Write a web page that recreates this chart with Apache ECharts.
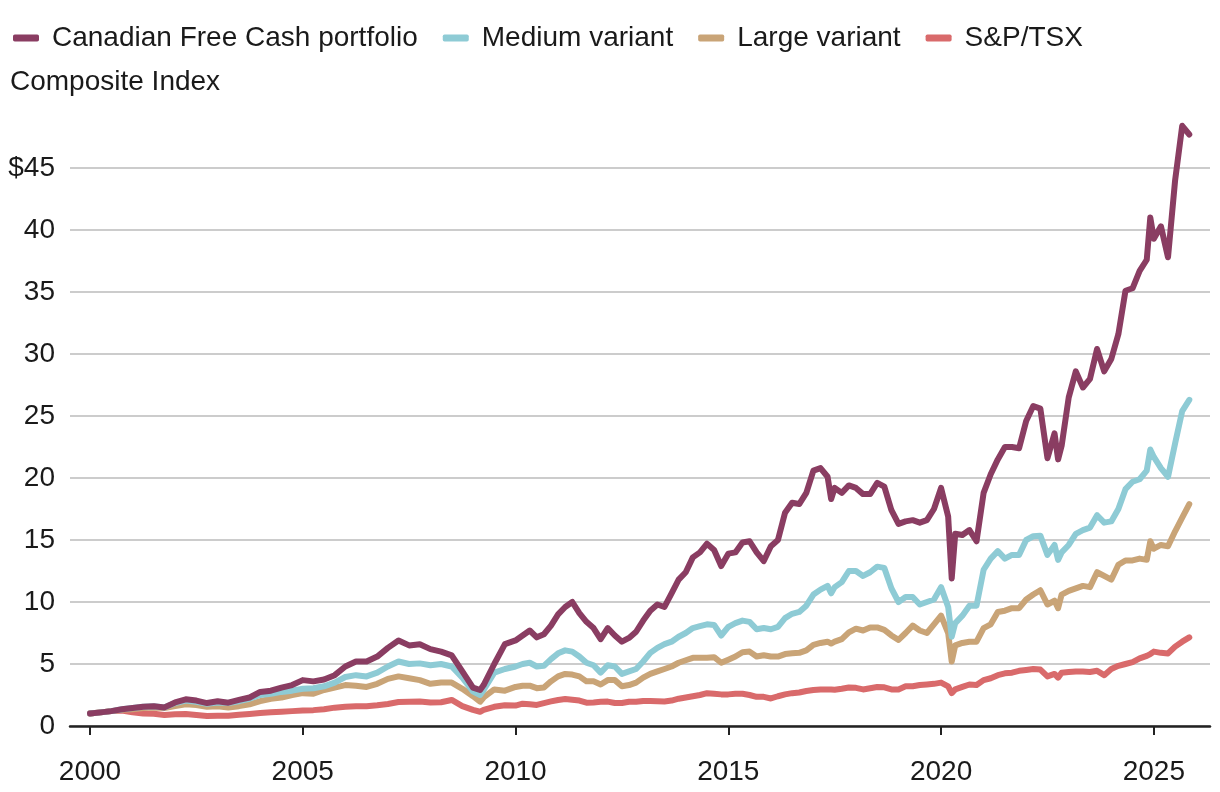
<!DOCTYPE html>
<html><head><meta charset="utf-8">
<script src="https://cdn.jsdelivr.net/npm/echarts@6.0.0/dist/echarts.min.js"></script>
<style>html,body{margin:0;padding:0;background:#fff}#chart{width:1220px;height:792px}</style>
</head><body><div id="chart"></div>
<script>
const seriesNames = ['Canadian Free Cash portfolio', 'Medium variant', 'Large variant', 'S&P/TSX Composite Index'];
const tickYears = [2000, 2005, 2010, 2015, 2020, 2025];
const yTicks = [0, 5, 10, 15, 20, 25, 30, 35, 40, 45];

const dates = [
'2000-01','2000-04','2000-07','2000-10',
'2001-01','2001-04','2001-07','2001-10',
'2002-01','2002-04','2002-07','2002-10',
'2003-01','2003-04','2003-07','2003-10',
'2004-01','2004-04','2004-07','2004-10',
'2005-01','2005-04','2005-07','2005-10',
'2006-01','2006-04','2006-07','2006-10',
'2007-01','2007-04','2007-07','2007-10',
'2008-01','2008-04','2008-07','2008-10',
'2009-01','2009-03','2009-04','2009-07','2009-10',
'2010-01','2010-03','2010-05','2010-07','2010-09','2010-11',
'2011-01','2011-03','2011-05','2011-07','2011-09','2011-11',
'2012-01','2012-03','2012-05','2012-07','2012-09','2012-11',
'2013-01','2013-03','2013-05','2013-07','2013-09','2013-11',
'2014-01','2014-03','2014-05','2014-07','2014-09','2014-11',
'2015-01','2015-03','2015-05','2015-07','2015-09','2015-11',
'2016-01','2016-03','2016-05','2016-07','2016-09','2016-11',
'2017-01','2017-03','2017-05','2017-06','2017-07','2017-09','2017-11',
'2018-01','2018-03','2018-05','2018-07','2018-09','2018-11',
'2019-01','2019-03','2019-05','2019-07','2019-09','2019-11',
'2020-01','2020-03','2020-04','2020-05','2020-07','2020-09','2020-11',
'2021-01','2021-03','2021-05','2021-07','2021-09','2021-11',
'2022-01','2022-03','2022-05','2022-07','2022-09','2022-10','2022-11',
'2023-01','2023-03','2023-05','2023-07','2023-09','2023-11',
'2024-01','2024-03','2024-05','2024-07','2024-09','2024-11','2024-12',
'2025-01','2025-03','2025-05','2025-07','2025-09','2025-11'
];

const freeCash = [
1.0,1.1,1.2,1.35,
1.45,1.55,1.6,1.5,
1.9,2.15,2.05,1.85,
2.0,1.88,2.1,2.3,
2.75,2.85,3.1,3.3,
3.7,3.6,3.75,4.1,
4.8,5.2,5.2,5.6,
6.3,6.9,6.5,6.6,
6.2,6.0,5.7,4.4,
3.1,2.9,3.3,5.0,6.6,
6.9,7.3,7.7,7.15,7.4,8.1,
9.0,9.6,10.0,9.1,8.4,7.9,
7.0,7.9,7.3,6.8,7.1,7.6,
8.5,9.3,9.8,9.6,10.7,11.8,
12.4,13.6,14.0,14.7,14.2,12.9,
13.9,14.0,14.8,14.9,14.0,13.3,
14.5,15.0,17.2,18.0,17.9,18.8,
20.6,20.8,20.1,18.3,19.2,18.8,19.4,
19.2,18.7,18.7,19.6,19.3,17.4,
16.3,16.5,16.6,16.4,16.6,17.5,
19.2,16.9,11.9,15.5,15.4,15.8,14.9,
18.8,20.3,21.5,22.5,22.5,22.4,
24.6,25.8,25.6,21.6,23.6,21.5,22.6,
26.5,28.6,27.3,28.0,30.4,28.6,
29.6,31.6,35.1,35.3,36.7,37.6,41.0,
39.3,40.3,37.8,44.0,48.4,47.7
];

const mediumVariant = [
1.0,1.1,1.2,1.35,
1.45,1.55,1.6,1.5,
1.85,2.05,1.95,1.8,
1.9,1.85,2.0,2.2,
2.5,2.6,2.75,2.85,
3.0,3.05,3.2,3.5,
3.95,4.1,4.0,4.3,
4.8,5.2,5.0,5.05,
4.9,5.0,4.8,3.9,
2.8,2.5,2.9,4.3,4.6,
4.8,5.0,5.1,4.8,4.85,5.4,
5.86,6.1,6.0,5.6,5.1,4.9,
4.3,4.9,4.8,4.2,4.4,4.6,
5.2,5.9,6.3,6.6,6.8,7.2,
7.5,7.9,8.05,8.2,8.15,7.3,
8.0,8.3,8.5,8.4,7.8,7.9,
7.8,8.0,8.7,9.05,9.2,9.7,
10.6,11.0,11.3,10.7,11.2,11.6,12.5,
12.5,12.1,12.4,12.85,12.75,11.1,
10.0,10.4,10.4,9.8,10.0,10.2,
11.2,9.6,7.2,8.3,8.9,9.7,9.7,
12.6,13.5,14.1,13.5,13.8,13.8,
15.0,15.3,15.35,13.8,14.6,13.4,14.0,
14.6,15.5,15.8,16.0,17.0,16.4,
16.5,17.5,19.1,19.7,19.9,20.6,22.3,
21.7,20.8,20.1,22.8,25.4,26.3
];

const largeVariant = [
1.0,1.1,1.2,1.3,
1.35,1.45,1.5,1.45,
1.6,1.75,1.7,1.55,
1.6,1.5,1.6,1.75,
2.0,2.2,2.3,2.5,
2.65,2.6,2.9,3.1,
3.3,3.25,3.15,3.4,
3.8,4.0,3.85,3.7,
3.4,3.5,3.5,3.0,
2.4,1.96,2.3,2.95,2.85,
3.15,3.25,3.25,3.05,3.1,3.6,
4.0,4.2,4.15,4.0,3.6,3.6,
3.35,3.7,3.7,3.2,3.3,3.5,
3.9,4.2,4.4,4.6,4.8,5.1,
5.3,5.5,5.5,5.5,5.55,5.1,
5.35,5.6,5.95,6.0,5.6,5.7,
5.6,5.6,5.8,5.86,5.9,6.1,
6.55,6.7,6.8,6.65,6.8,7.0,7.55,
7.85,7.7,7.95,7.95,7.75,7.3,
6.95,7.5,8.1,7.7,7.5,8.2,
8.9,7.5,5.2,6.5,6.7,6.8,6.8,
7.9,8.2,9.2,9.3,9.5,9.5,
10.2,10.6,10.95,9.8,10.1,9.5,10.6,
10.9,11.1,11.3,11.2,12.4,12.1,
11.8,13.0,13.35,13.35,13.5,13.4,14.9,
14.3,14.6,14.5,15.7,16.8,17.9
];

const tsxIndex = [
1.0,1.1,1.2,1.25,
1.1,1.0,0.98,0.88,
0.95,0.97,0.88,0.8,
0.83,0.82,0.9,0.97,
1.05,1.1,1.15,1.2,
1.25,1.28,1.35,1.48,
1.55,1.6,1.6,1.68,
1.78,1.93,1.95,1.98,
1.9,1.92,2.1,1.6,
1.3,1.15,1.3,1.55,1.68,
1.65,1.8,1.75,1.7,1.85,1.98,
2.1,2.18,2.12,2.05,1.88,1.9,
1.95,1.97,1.85,1.85,1.95,1.95,
2.02,2.02,2.0,1.98,2.05,2.2,
2.3,2.4,2.5,2.65,2.6,2.55,
2.55,2.6,2.6,2.5,2.35,2.35,
2.22,2.4,2.55,2.65,2.7,2.82,
2.9,2.95,2.95,2.95,2.93,3.0,3.1,
3.08,2.95,3.05,3.15,3.12,2.95,
2.95,3.2,3.2,3.3,3.35,3.4,
3.5,3.2,2.65,2.95,3.15,3.35,3.3,
3.7,3.85,4.1,4.25,4.3,4.45,
4.52,4.6,4.55,4.0,4.2,3.9,4.3,
4.35,4.4,4.4,4.35,4.45,4.1,
4.6,4.85,5.0,5.15,5.45,5.65,5.8,
6.0,5.9,5.85,6.4,6.8,7.15
];

const colors = ['#8a3d62', '#8ecbd5', '#c9a477', '#d96a6b'];
const FONT = '"Liberation Sans", Arial, sans-serif';
const TEXT = '#1a1a1a';
const FS = 28;

function toYear(s) { const p = s.split('-').map(Number); return p[0] + (p[1] - 1) / 12; }
const pairs = arr => arr.map((v, i) => [toYear(dates[i]), v]);
const allValues = [freeCash, mediumVariant, largeVariant, tsxIndex];

const chart = echarts.init(document.getElementById('chart'), null, { renderer: 'canvas' });
chart.setOption({
  animation: false,
  color: colors,
  grid: { left: 70, right: 10, top: 106, bottom: 66 },
  legend: {
    left: 8, top: 19,
    itemWidth: 26, itemHeight: 7, itemGap: 25,
    icon: 'roundRect',
    data: seriesNames,
    formatter: n => n === 'S&P/TSX Composite Index' ? 'S&P/TSX' : n,
    textStyle: { fontFamily: FONT, fontSize: FS, color: TEXT, padding: [0, 0, 0, 8] }
  },
  graphic: [{
    type: 'text', left: 10, top: 68,
    style: { text: 'Composite Index', fontFamily: FONT, fontSize: FS, fill: TEXT }
  }],
  xAxis: {
    type: 'value', min: 1999.53, max: 2026.32,
    axisLine: { lineStyle: { color: '#222', width: 2.5 } },
    axisTick: { customValues: tickYears, length: 9, lineStyle: { color: '#222', width: 2 } },
    axisLabel: { customValues: tickYears, formatter: v => String(Math.round(v)), margin: 32,
      fontFamily: FONT, fontSize: FS, color: TEXT },
    splitLine: { show: false }
  },
  yAxis: {
    type: 'value', min: 0, max: 50, interval: 5,
    axisLine: { show: false }, axisTick: { show: false },
    splitLine: { showMaxLine: false, lineStyle: { color: '#cccccc', width: 2 } },
    axisLabel: { showMaxLabel: false, margin: 15, fontFamily: FONT, fontSize: FS, color: TEXT,
      formatter: v => v === 45 ? '$45' : String(v) }
  },
  series: seriesNames.map((name, i) => ({
    name, type: 'line', data: pairs(allValues[i]),
    showSymbol: false, symbol: 'none', z: 10 - i,
    lineStyle: { width: 6, color: colors[i], cap: 'round', join: 'round' },
    itemStyle: { color: colors[i] },
    emphasis: { disabled: true }
  }))
});
</script></body></html>
